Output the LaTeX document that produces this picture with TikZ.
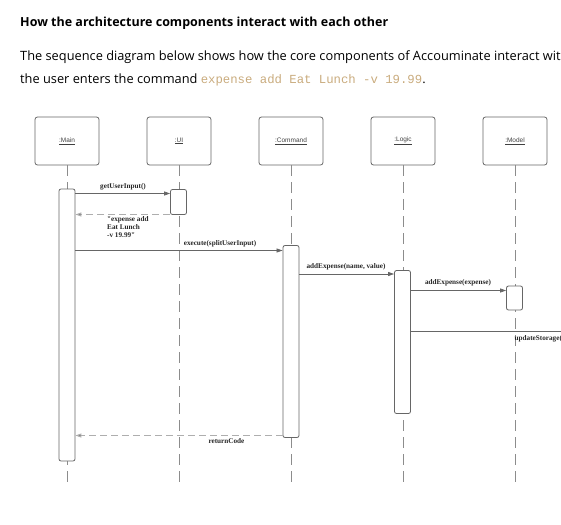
\documentclass[tikz,border=0pt]{standalone}
\usepackage{fontspec}
\setmainfont{Open Sans}
\newfontfamily\umlfont{Liberation Serif}
\newfontfamily\boxfont{Liberation Sans}
\newfontfamily\codefont{Liberation Mono}
\usetikzlibrary{arrows.meta}
\definecolor{lineg}{HTML}{666666}
\definecolor{lifeg}{HTML}{8C8C8C}
\definecolor{retg}{HTML}{AEAEAE}
\definecolor{codebeige}{HTML}{C9AB7D}

\begin{document}
\begin{tikzpicture}[x=1pt, y=-1pt,
  actor/.style={draw=lineg, rounded corners=2.5pt, line width=0.8pt,
    minimum width=64pt, minimum height=48pt, inner sep=0pt,
    font=\boxfont\fontsize{6.5}{7}\selectfont, text=black!75},
  bar/.style={draw=lineg, fill=white, rounded corners=2pt, line width=0.8pt,
    minimum width=16pt, inner sep=0pt},
  life/.style={draw=lifeg, line width=0.7pt, dash pattern=on 11pt off 6pt},
  msg/.style={draw=lineg, line width=0.7pt, -{Triangle[length=6pt, width=4pt]}},
  ret/.style={draw=retg, line width=1pt, dash pattern=on 7pt off 4pt,
    -{Triangle[length=6pt, width=4pt, fill=lineg]}},
  lbl/.style={font=\umlfont\bfseries\fontsize{7.2}{8.3}\selectfont, text=black!85, inner sep=0pt}
]
  \useasboundingbox (0,0) rectangle (561,524);
  \clip (0,0) rectangle (561,524);

  % --- texte ---
  \node[anchor=base west, inner sep=0pt, font=\bfseries\fontsize{12.5}{15}\selectfont] (titre) at (20,26.5)
    {How the architecture components interact with each other};
  \node[anchor=base west, inner sep=0pt, font=\fontsize{12.8}{15}\selectfont] (ligne1) at (20,61)
    {The sequence diagram below shows how the core components of Accouminate interact with};
  \node[anchor=base west, inner sep=0pt, font=\fontsize{12.8}{15}\selectfont] (ligne2) at (20,84)
    {the user enters the command \textcolor{codebeige}{\codefont\fontsize{12.3}{15}\selectfont expense add Eat Lunch -v 19.99}.};

  % --- objets ---
  \node[actor] (main) at (67,141) {\underline{:Main}};
  \node[actor] (ui)   at (179,141) {\underline{:UI}};
  \node[actor] (cmd)  at (291,141) {\underline{:Command}};
  \node[actor] (logic) at (403,141) {\underline{:Logic}};
  \node[actor] (model) at (515,141) {\underline{:Model}};

  % --- lignes de vie ---
  \foreach \o in {main, ui, cmd, logic, model}
    \draw[life] (\o.south) -- ++(0,320);

  % --- activations ---
  \node[bar, minimum height=272pt] (mainbar)  at (67,325) {};
  \node[bar, minimum height=25pt]  (uibar)    at (178.5,202) {};
  \node[bar, minimum height=192pt] (cmdbar)   at (291,341.5) {};
  \node[bar, minimum height=143pt] (logicbar) at (402.5,342) {};
  \node[bar, minimum height=24pt]  (modelbar) at (514.5,298) {};
  \coordinate (stor) at (600,331);

  % --- messages ---
  \draw[msg] (mainbar.east |- 0,193.5) -- (uibar.west |- 0,193.5);
  \node[lbl] (m1) at (123,186.5) {getUserInput()};

  \draw[ret] (uibar.west |- 0,214.5) -- (mainbar.east |- 0,214.5);
  \node[lbl, anchor=north west, align=left] (r1) at (107,216)
    {"expense add\\Eat Lunch\\-v 19.99"};

  \draw[msg] (mainbar.east |- 0,250.5) -- (cmdbar.west |- 0,250.5);
  \node[lbl] (m2) at (220,244) {execute(splitUserInput)};

  \draw[msg] (cmdbar.east |- 0,274) -- (logicbar.west |- 0,274);
  \node[lbl] (m3) at (346,267) {addExpense(name, value)};

  \draw[msg] (logicbar.east |- 0,290.5) -- (modelbar.west |- 0,290.5);
  \node[lbl] (m4) at (458,283) {addExpense(expense)};

  \draw[msg] (logicbar.east |- stor) -- (stor);
  \node[lbl, anchor=west] (m5) at (514.5,338.5) {updateStorage()};

  \draw[ret] (cmdbar.west |- 0,435.5) -- (mainbar.east |- 0,435.5);
  \node[lbl] (r2) at (226.5,441.5) {returnCode};
\end{tikzpicture}
\end{document}
